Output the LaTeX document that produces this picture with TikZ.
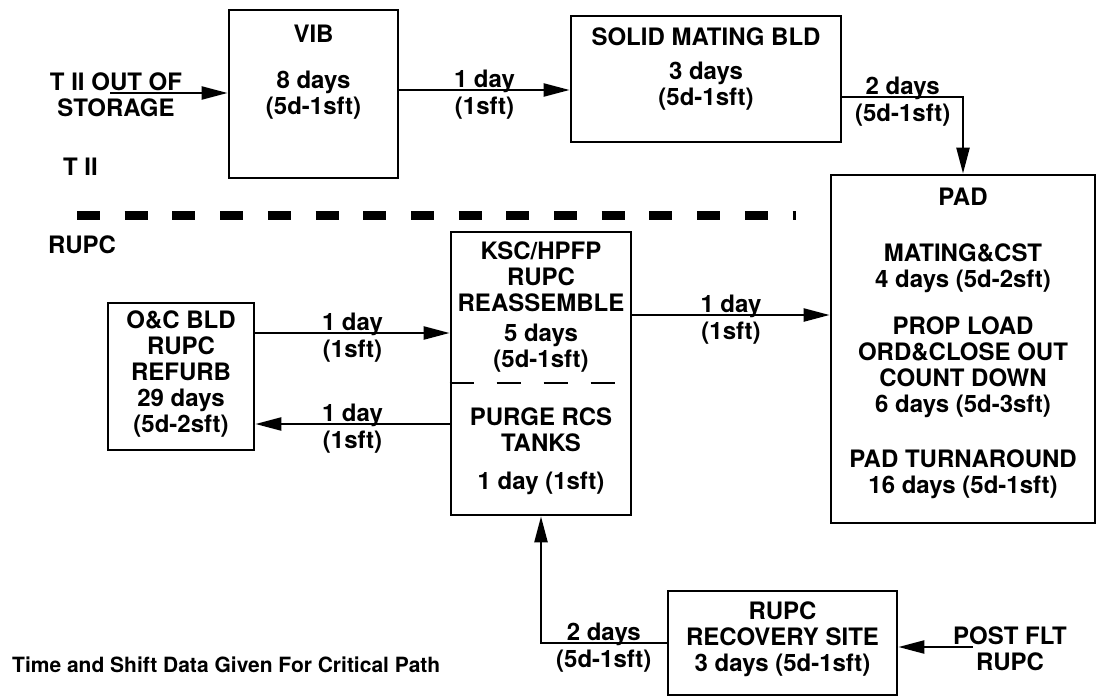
\documentclass[tikz,border=0pt]{standalone}
\usepackage{fontspec}
\setmainfont{TeX Gyre Heros}
\usetikzlibrary{positioning,arrows.meta,calc}

\begin{document}
\begin{tikzpicture}[x=1pt,y=-1pt,
box/.style={draw,line width=2.8pt,inner sep=0pt},
txt/.style={font=\fontsize{24}{26}\selectfont\bfseries,align=center,inner sep=0pt},
lbl/.style={font=\fontsize{24}{26}\selectfont\bfseries,inner sep=0pt},
lblup/.style={lbl,above=-3.6pt},
lbldn/.style={lbl,below=5.5pt},
arr/.style={line width=2.4pt,-{Triangle[length=26pt,width=13pt]}}]
\useasboundingbox (0,0) rectangle (1099,698);

% boxes
\node[box,minimum width=169pt,minimum height=168pt] (vib) at (313.5,94) {};
\node[box,minimum width=270pt,minimum height=126pt] (solid) at (706,79) {};
\node[box,minimum width=264pt,minimum height=348pt] (pad) at (963,349) {};
\node[box,minimum width=180pt,minimum height=283pt] (ksc) at (541,373.5) {};
\node[box,minimum width=146pt,minimum height=147pt] (oc) at (181,376.5) {};
\node[box,minimum width=229pt,minimum height=104pt] (rec) at (782.5,643) {};

% box texts
\node[txt] (vibtxt) at (313.5,72.5) {VIB\\[20pt]8 days\\(5d-1sft)};
\node[txt] (solidtxt) at (706,69.5) {SOLID MATING BLD\\[8pt]3 days\\(5d-1sft)};
\node[txt] (padname) at (963,197) {PAD};
\node[txt] (padmate) at (963,268.5) {MATING\&CST\\4 days (5d-2sft)};
\node[txt] (padprop) at (963,367.5) {PROP LOAD\\ORD\&CLOSE OUT\\COUNT DOWN\\6 days (5d-3sft)};
\node[txt] (padturn) at (963,474) {PAD TURNAROUND\\16 days (5d-1sft)};
\node[txt] (ksctop) at (541,277) {KSC/HPFP\\RUPC\\REASSEMBLE};
\node[txt] (kscdays) at (541,348.5) {5 days\\(5d-1sft)};
\node[txt] (kscpurge) at (541,430) {PURGE RCS\\TANKS};
\node[txt] (kscpday) at (541,483) {1 day (1sft)};
\node[txt] (octxt) at (181,374) {O\&C BLD\\RUPC\\REFURB\\29 days\\(5d-2sft)};
\node[txt] (rectxt) at (782.5,639.5) {RUPC\\RECOVERY SITE\\3 days (5d-1sft)};

% free texts
\node[txt] (storlbl) at (116,94.5) {T II OUT OF\\STORAGE};
\node[txt] (tii) at (80.5,167) {T II};
\node[txt] (rupc) at (82,245) {RUPC};
\node[txt] (postlbl) at (1010,649) {POST FLT\\RUPC};
\node[anchor=west,inner sep=0pt,font=\fontsize{21}{24}\selectfont\bfseries] (note) at (12,665) {Time and Shift Data Given For Critical Path};

% divider T II / RUPC
\coordinate (dl) at (77,215);
\coordinate (dr) at (796,215);
\draw[line width=9pt,dash pattern=on 23pt off 24.7pt] (dl) -- (dr);
\draw[line width=2.8pt,dash pattern=on 24pt off 23pt] ([yshift=-9.5pt]ksc.west) -- ([yshift=-9.5pt]ksc.east);

% connectors
\coordinate (stor) at (110,93);
\coordinate (postflt) at (973,647);
\draw[arr] (stor) -- (stor -| vib.west);
\draw[arr] ([yshift=4pt]vib.east) -- node[lblup,midway]{1 day} node[lbldn,midway]{(1sft)} ([yshift=4pt]vib.east -| solid.west);
\draw[arr] ([yshift=-18pt]solid.east) -| node[lblup,pos=0.25]{2 days} node[lbldn,pos=0.25]{(5d-1sft)} (pad.north);
\draw[arr] ([yshift=43.5pt]oc.east) -- node[lblup,midway]{1 day} node[lbldn,midway]{(1sft)} ([yshift=43.5pt]oc.east -| ksc.west);
\draw[arr] ([yshift=-47.5pt]oc.east -| ksc.west) -- node[lblup,midway]{1 day} node[lbldn,midway]{(1sft)} ([yshift=-47.5pt]oc.east);
\draw[arr] ([yshift=58.5pt]ksc.east) -- node[lblup,midway]{1 day} node[lbldn,midway]{(1sft)} ([yshift=58.5pt]ksc.east -| pad.west);
\draw[arr] (rec.west) -| node[lblup,pos=0.25]{2 days} node[lbldn,pos=0.25]{(5d-1sft)} (ksc.south);
\draw[arr] (postflt) -- (postflt -| rec.east);
\end{tikzpicture}
\end{document}
